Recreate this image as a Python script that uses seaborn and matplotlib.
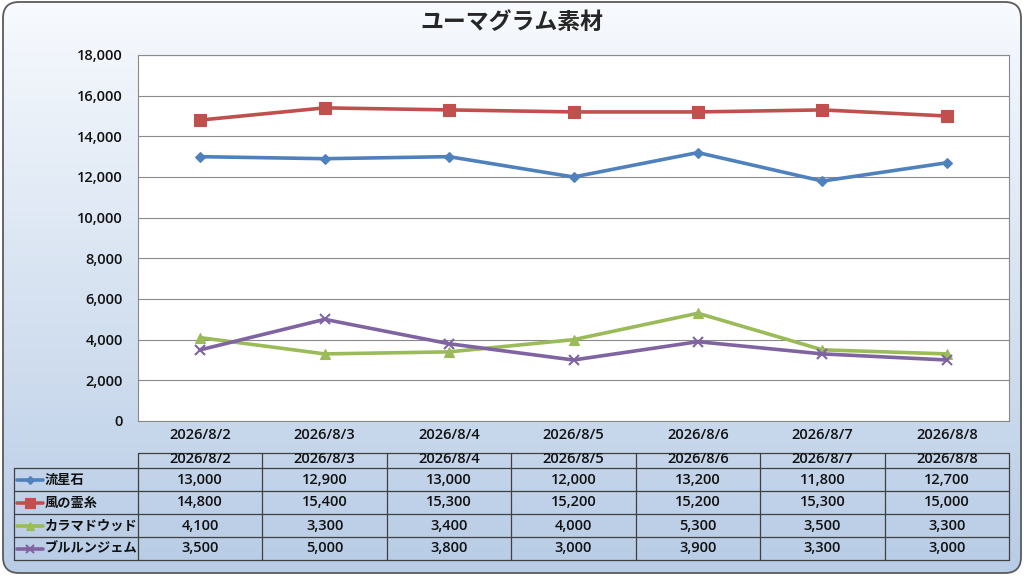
import matplotlib.pyplot as plt
import numpy as np
import pandas as pd
import seaborn as sns
from matplotlib.patches import FancyBboxPatch
from matplotlib.lines import Line2D

# data
dates = ["2026/8/2", "2026/8/3", "2026/8/4", "2026/8/5", "2026/8/6", "2026/8/7", "2026/8/8"]
series_names = ["流星石", "風の霊糸", "カラマドウッド", "ブルルンジェム"]
ryuseiseki = [13000, 12900, 13000, 12000, 13200, 11800, 12700]
kaze_reishi = [14800, 15400, 15300, 15200, 15200, 15300, 15000]
karamawood = [4100, 3300, 3400, 4000, 5300, 3500, 3300]
bururun = [3500, 5000, 3800, 3000, 3900, 3300, 3000]
title = "ユーマグラム素材"

colors = ["#4F81BD", "#C0504D", "#9BBB59", "#8064A2"]
markers = ["D", "s", "^", "x"]
msizes = [5, 8, 7, 7]

sns.set_theme(style="white")
plt.rcParams['font.family'] = ['Open Sans', 'Noto Sans CJK JP', 'DejaVu Sans']

df = pd.DataFrame({"date": dates, series_names[0]: ryuseiseki, series_names[1]: kaze_reishi,
                   series_names[2]: karamawood, series_names[3]: bururun})
long = df.melt(id_vars="date", var_name="series", value_name="value")

W, H = 1024, 576
fig = plt.figure(figsize=(W / 100, H / 100), dpi=100)
fig.patch.set_facecolor("white")

# gradient background with rounded border
bg = fig.add_axes([0, 0, 1, 1], zorder=-10)
bg.set_xlim(0, W)
bg.set_ylim(H, 0)
bg.axis("off")
grad = np.linspace(0, 1, 256).reshape(-1, 1)
top_c = np.array([0.97, 0.98, 0.995])
bot_c = np.array([0.72, 0.80, 0.90])
img = top_c + (bot_c - top_c) * grad[..., None]
box = FancyBboxPatch((3, 2), W - 6, H - 5, boxstyle="round,pad=0,rounding_size=16",
                     facecolor="none", edgecolor="#5a5a5a", linewidth=1.3)
bg.add_patch(box)
im = bg.imshow(img, extent=[3, W - 3, H - 3, 2], aspect="auto")
im.set_clip_path(box)

txt = dict(fontsize=10.5, fontweight="semibold", color="#111111")

# main chart
ax = fig.add_axes([138 / W, 1 - 421 / H, (1009 - 138) / W, (421 - 55) / H])
ax.set_facecolor("white")
for i, name in enumerate(series_names):
    sub = long[long["series"] == name]
    sns.lineplot(data=sub, x="date", y="value", ax=ax, color=colors[i], linewidth=2.6,
                 marker=markers[i], markersize=msizes[i], markeredgecolor=colors[i],
                 markeredgewidth=1.5 if markers[i] == "x" else 0.8, legend=False, sort=False)
ax.set_xlim(-0.5, len(dates) - 0.5)
ax.set_ylim(0, 18000)
ax.set_yticks(np.arange(0, 18001, 2000))
ax.set_yticklabels([f"{v:,}" for v in range(0, 18001, 2000)], **txt)
ax.set_xticks(range(len(dates)))
ax.set_xticklabels(dates, **txt)
ax.tick_params(axis="y", length=0, pad=11)
ax.tick_params(axis="x", length=0, pad=5)
ax.set_xlabel("")
ax.set_ylabel("")
ax.grid(axis="y", color="#8a8a8a", linewidth=0.8)
ax.grid(axis="x", visible=False)
for s in ax.spines.values():
    s.set_color("#8a8a8a")
    s.set_linewidth(0.8)

fig.text(0.5, 1 - 22 / H, title, ha="center", va="center", fontsize=16.5, fontweight="bold",
         family=['Noto Sans CJK JP', 'DejaVu Sans'])

# data table drawn below the axes
tab = fig.add_axes([0, 0, 1, 1], zorder=5)
tab.set_xlim(0, W)
tab.set_ylim(H, 0)
tab.axis("off")
left, x0, x1 = 14, 138, 1009
colw = (x1 - x0) / len(dates)
rows_y = [453, 468, 491, 514, 537, 560]
lc = "#404040"
# horizontal lines
tab.plot([x0, x1], [rows_y[0], rows_y[0]], color=lc, lw=0.9)
for y in rows_y[1:]:
    tab.plot([left, x1], [y, y], color=lc, lw=0.9)
# vertical lines
tab.plot([left, left], [rows_y[1], rows_y[-1]], color=lc, lw=0.9)
for j in range(len(dates) + 1):
    tab.plot([x0 + j * colw] * 2, [rows_y[0], rows_y[-1]], color=lc, lw=0.9)
for j, d in enumerate(dates):
    tab.text(x0 + (j + 0.5) * colw, 459, d, ha="center", va="center", **txt)
all_vals = [ryuseiseki, kaze_reishi, karamawood, bururun]
for i, name in enumerate(series_names):
    yc = (rows_y[i + 1] + rows_y[i + 2]) / 2
    tab.add_line(Line2D([17, 43], [yc, yc], color=colors[i], lw=2.6))
    tab.plot([30], [yc], marker=markers[i], color=colors[i], markersize=msizes[i] - 1,
             markeredgewidth=1.5 if markers[i] == "x" else 0.8)
    tab.text(45, yc, name, ha="left", va="center", fontsize=9.5, fontweight="bold",
             color="#111111", family=['Noto Sans CJK JP', 'DejaVu Sans'])
    for j, v in enumerate(all_vals[i]):
        tab.text(x0 + (j + 0.5) * colw, yc, f"{v:,}", ha="center", va="center", **txt)

fig.savefig("out.png", dpi=100)
